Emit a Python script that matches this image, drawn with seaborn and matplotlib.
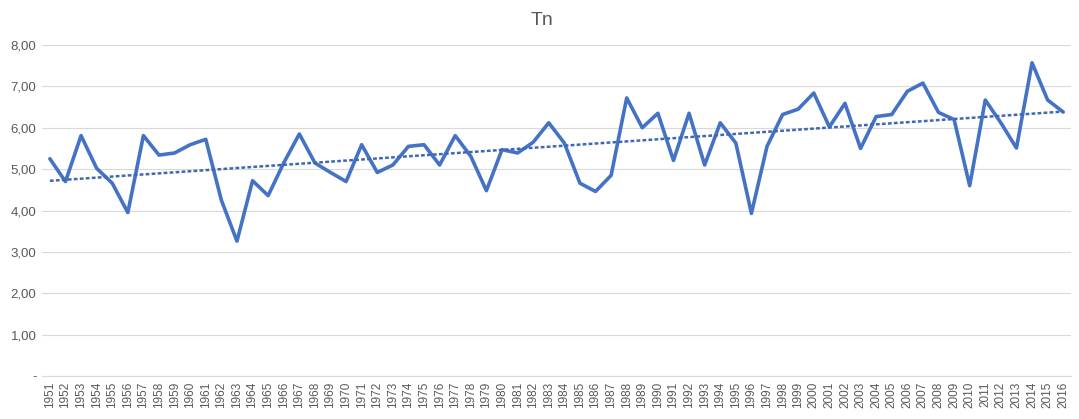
import numpy as np
import pandas as pd
import matplotlib
matplotlib.use("Agg")
import matplotlib.pyplot as plt
import seaborn as sns

# Annual values
years = list(range(1951, 2017))
tn = [5.25, 4.70, 5.81, 5.02, 4.66, 3.95, 5.81, 5.34, 5.39, 5.59,
      5.72, 4.25, 3.26, 4.72, 4.36, 5.15, 5.85, 5.15, 4.92, 4.70,
      5.59, 4.92, 5.10, 5.55, 5.59, 5.10, 5.81, 5.31, 4.48, 5.47,
      5.39, 5.65, 6.12, 5.63, 4.66, 4.46, 4.85, 6.72, 6.00, 6.35,
      5.21, 6.35, 5.10, 6.12, 5.63, 3.93, 5.55, 6.32, 6.45, 6.84,
      6.02, 6.59, 5.50, 6.27, 6.32, 6.88, 7.08, 6.37, 6.20, 4.60,
      6.67, 6.12, 5.51, 7.57, 6.67, 6.38]
y_ticks = [0, 1, 2, 3, 4, 5, 6, 7, 8]
y_labels = ["-", "1,00", "2,00", "3,00", "4,00", "5,00", "6,00", "7,00", "8,00"]

df = pd.DataFrame({"year": years, "Tn": tn})

sns.set_style("white")
plt.rcParams['font.family'] = ['Liberation Sans', 'DejaVu Sans']

blue = "#4472C4"
grey_txt = "#595959"

fig = plt.figure(figsize=(10.79, 4.19), dpi=100)
ax = fig.add_axes([0.039, 0.1026, 0.9536, 0.79])

sns.lineplot(data=df, x="year", y="Tn", ax=ax, color=blue, linewidth=2.6)

# linear trend line
sns.regplot(data=df, x="year", y="Tn", ax=ax, scatter=False, ci=None,
            line_kws=dict(color="#3F68B4", linewidth=1.8, linestyle=(0, (1.5, 0.9))))

ax.set_xlim(1950.5, 2016.5)
ax.set_ylim(0, 8)
ax.set_xticks(years)
ax.set_xticklabels([str(y) for y in years], rotation=90, fontsize=8.5, color=grey_txt)
ax.set_yticks(y_ticks)
ax.set_yticklabels(y_labels, fontsize=9.5, color=grey_txt)
ax.tick_params(axis="both", length=0, pad=4)
ax.grid(axis="y", color="#D9D9D9", linewidth=0.8)
ax.set_axisbelow(True)
for s in ["top", "right", "left"]:
    ax.spines[s].set_visible(False)
ax.spines["bottom"].set_color("#D9D9D9")
ax.spines["bottom"].set_linewidth(0.8)
ax.set_xlabel("")
ax.set_ylabel("")

fig.suptitle("Tn", x=0.502, y=0.972, fontsize=14, color=grey_txt)

fig.savefig("out.png", dpi=100, facecolor="white")
